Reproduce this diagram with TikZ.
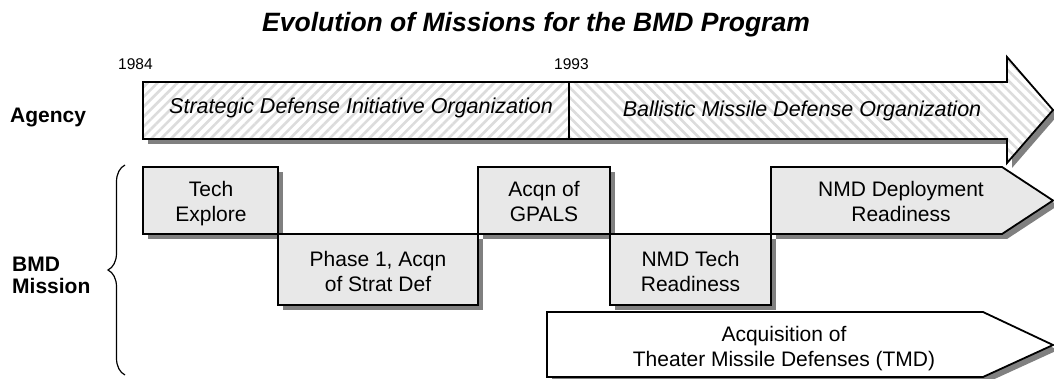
\documentclass[tikz,border=0pt]{standalone}
\usepackage{fontspec}
\setmainfont{Liberation Sans}
\usetikzlibrary{patterns.meta,decorations.pathreplacing}
\definecolor{shadowgray}{HTML}{808080}
\definecolor{boxgray}{HTML}{E8E8E8}
\definecolor{hatchgray}{HTML}{DCDCDC}
\begin{document}
\begin{tikzpicture}[x=1pt,y=-1pt,
  outl/.style={draw=black,line width=1.8pt,line join=miter},
  shad/.style={fill=shadowgray,draw=none,shift={(5,5)}},
  boxfill/.style={outl,fill=boxgray},
  lbl/.style={font=\fontsize{21}{25}\selectfont,align=center,anchor=base,inner sep=0pt},
  ital/.style={font=\fontsize{21.5}{25}\selectfont\itshape,anchor=base,inner sep=0pt},
  side/.style={font=\fontsize{21}{21.3}\selectfont\bfseries,align=left,anchor=base west,inner sep=0pt},
  year/.style={font=\fontsize{15.5}{18}\selectfont,anchor=base west,inner sep=0pt},
  hatchA/.style={pattern={Lines[angle=45,distance=7pt,line width=2.6pt]},pattern color=hatchgray},
  hatchB/.style={pattern={Lines[angle=-45,distance=7pt,line width=2.6pt]},pattern color=hatchgray}]
\useasboundingbox (0,0) rectangle (1054,379);

% title
\node[font=\fontsize{26.5}{30}\selectfont\bfseries\itshape,anchor=base,inner sep=0pt] (title) at (536,32) {Evolution of Missions for the BMD Program};

% years
\node[year] (y1984) at (118,70) {1984};
\node[year] (y1993) at (554,70) {1993};

% side labels
\node[side] (agency) at (10,122.7) {Agency};
\node[side] (bmdmission) at (12,293) {BMD\\Mission};
\coordinate (braceb) at (125,375);
\coordinate (bracet) at (125,165);
\draw[line width=1.2pt,decorate,decoration={brace,amplitude=17pt}] (braceb) -- (bracet);

% shadows
\fill[shad] (143,82) -- (1007,82) -- (1007,57) -- (1053,110) -- (1007,163) -- (1007,139) -- (143,139) -- cycle;
\fill[shad] (143,167) rectangle (278,234);
\fill[shad] (278,234) rectangle (478,305);
\fill[shad] (478,167) rectangle (610,234);
\fill[shad] (610,234) rectangle (771,305);
\fill[shad] (771,167) -- (1002,167) -- (1053,200.5) -- (1002,234) -- (771,234) -- cycle;
\fill[shad] (547,312) -- (983,312) -- (1053,345) -- (983,377) -- (547,377) -- cycle;

% agency arrow
\fill[white] (143,82) -- (1007,82) -- (1007,57) -- (1053,110) -- (1007,163) -- (1007,139) -- (143,139) -- cycle;
\fill[hatchA] (143,82) rectangle (569,139);
\fill[hatchB] (569,82) -- (1007,82) -- (1007,57) -- (1053,110) -- (1007,163) -- (1007,139) -- (569,139) -- cycle;
\draw[outl] (143,82) -- (1007,82) -- (1007,57) -- (1053,110) -- (1007,163) -- (1007,139) -- (143,139) -- cycle;
\draw[outl] (569,82) -- (569,139);
\node[ital] (sdio) at (361,113.3) {Strategic Defense Initiative Organization};
\node[ital] (bmdo) at (802,116.5) {Ballistic Missile Defense Organization};

% mission boxes
\draw[boxfill] (143,167) rectangle (278,234);
\draw[boxfill] (278,234) rectangle (478,305);
\draw[boxfill] (478,167) rectangle (610,234);
\draw[boxfill] (610,234) rectangle (771,305);
\draw[boxfill] (771,167) -- (1002,167) -- (1053,200.5) -- (1002,234) -- (771,234) -- cycle;
\draw[outl,fill=white] (547,312) -- (983,312) -- (1053,345) -- (983,377) -- (547,377) -- cycle;

\node[lbl] (tech) at (211,222) {Tech\\Explore};
\node[lbl] (phase) at (378,291.7) {Phase 1, Acqn\\of Strat Def};
\node[lbl] (gpals) at (544,222) {Acqn of\\GPALS};
\node[lbl] (nmdtech) at (690.5,291.7) {NMD Tech\\Readiness};
\node[lbl] (nmddep) at (901,222) {NMD Deployment\\Readiness};
\node[lbl] (tmd) at (784,366.7) {Acquisition of\\Theater Missile Defenses (TMD)};
\end{tikzpicture}
\end{document}
